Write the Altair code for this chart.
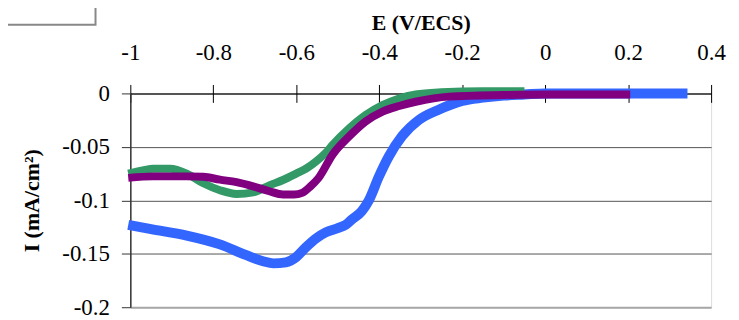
import altair as alt
import pandas as pd

# Series (E in V/ECS, I in mA/cm^2)
blue_x = [-1.005, -0.95, -0.864, -0.786, -0.722, -0.68, -0.655, -0.625, -0.6, -0.577, -0.55,
          -0.529, -0.5, -0.481, -0.466, -0.442, -0.425, -0.401, -0.377, -0.345, -0.305,
          -0.258, -0.2, -0.15, -0.1, -0.05, 0.0, 0.343]
blue_y = [-0.123, -0.127, -0.133, -0.141, -0.151, -0.157, -0.159, -0.158, -0.153, -0.144, -0.135,
          -0.130, -0.126, -0.123, -0.118, -0.110, -0.100, -0.078, -0.059, -0.040, -0.025,
          -0.0155, -0.007, -0.004, -0.002, -0.001, 0.0, 0.0]

green_x = [-1.005, -0.97, -0.944, -0.904, -0.864, -0.824, -0.784, -0.744, -0.704, -0.665, -0.632,
           -0.6, -0.575, -0.552, -0.53, -0.512, -0.472, -0.432, -0.392, -0.352, -0.312, -0.25,
           -0.15, -0.05]
green_y = [-0.075, -0.072, -0.0705, -0.0705, -0.075, -0.084, -0.0905, -0.094, -0.0925, -0.086, -0.081,
           -0.075, -0.070, -0.0636, -0.056, -0.048, -0.0326, -0.020, -0.011, -0.0047, -0.001, 0.001,
           0.002, 0.002]

purple_x = [-1.005, -0.944, -0.864, -0.824, -0.784, -0.744, -0.704, -0.665, -0.632, -0.605, -0.586,
            -0.566, -0.546, -0.512, -0.472, -0.432, -0.392, -0.352, -0.312, -0.232, -0.1, 0.0, 0.205]
purple_y = [-0.079, -0.0776, -0.0776, -0.078, -0.0807, -0.083, -0.0869, -0.0915, -0.0945, -0.0945, -0.093,
            -0.087, -0.079, -0.057, -0.040, -0.026, -0.017, -0.0118, -0.0078, -0.003, -0.0015, -0.001, -0.001]

x_ticks = [-1, -0.8, -0.6, -0.4, -0.2, 0, 0.2, 0.4]
y_ticks = [0, -0.05, -0.1, -0.15, -0.2]

FONT = "Liberation Serif"

def frame(xs, ys):
    return pd.DataFrame({"E": xs, "I": ys})

x_enc = alt.X("E:Q",
              scale=alt.Scale(domain=[-1, 0.4], nice=False, zero=False),
              axis=alt.Axis(orient="top", values=x_ticks, title="E (V/ECS)",
                            domain=False, grid=False, offset=-9, tickSize=18,
                            tickColor="#000000", tickWidth=1,
                            labelExpr="'' + datum.value",
                            labelPadding=20, titlePadding=7, labelFlush=False,
                            labelFont=FONT, labelFontSize=23, labelColor="#000000",
                            titleFont=FONT, titleFontSize=22, titleFontWeight="bold",
                            titleColor="#000000"))
y_enc = alt.Y("I:Q",
              scale=alt.Scale(domain=[-0.2, 0], nice=False, zero=False),
              axis=alt.Axis(values=y_ticks, title="I (mA/cm²)",
                            domainColor="#333333", domainWidth=1.5,
                            tickColor="#333333", tickWidth=1, tickSize=9,
                            grid=True,
                            gridColor={"condition": {"test": "datum.value <= -0.2", "value": "#a6a6a6"},
                                       "value": "#555555"},
                            gridWidth={"condition": {"test": "datum.value >= 0 || datum.value <= -0.2", "value": 2},
                                       "value": 1},
                            labelExpr="'' + datum.value",
                            labelPadding=12, titlePadding=18, labelFlush=False,
                            labelFont=FONT, labelFontSize=23, labelColor="#000000",
                            titleFont=FONT, titleFontSize=22, titleFontWeight="bold",
                            titleColor="#000000"))

def series(xs, ys, color, width):
    return alt.Chart(frame(xs, ys)).mark_line(
        color=color, strokeWidth=width, interpolate="monotone", strokeCap="butt"
    ).encode(x=x_enc, y=y_enc)

blue = series(blue_x, blue_y, "#3366ff", 10)
green = series(green_x, green_y, "#339966", 8)
purple = series(purple_x, purple_y, "#800080", 8)

legend_box = alt.Chart(alt.Data(values=[{"k": 1}])).mark_rect(
    fill="#ffffff", stroke="#888888", strokeWidth=2
).encode(x=alt.value(-140), x2=alt.value(-35), y=alt.value(-110), y2=alt.value(-69))

chart = alt.layer(blue, green, purple, legend_box).properties(
    width=584, height=215,
    autosize=alt.AutoSizeParams(type="none"),
    padding={"left": 123, "top": 85, "right": 20, "bottom": 20},
).configure_view(stroke="#a0a0a0", strokeWidth=2).configure(
    background="#ffffff", font=FONT
)

chart.save("out.html", embed_options={"renderer": "svg", "actions": False})
